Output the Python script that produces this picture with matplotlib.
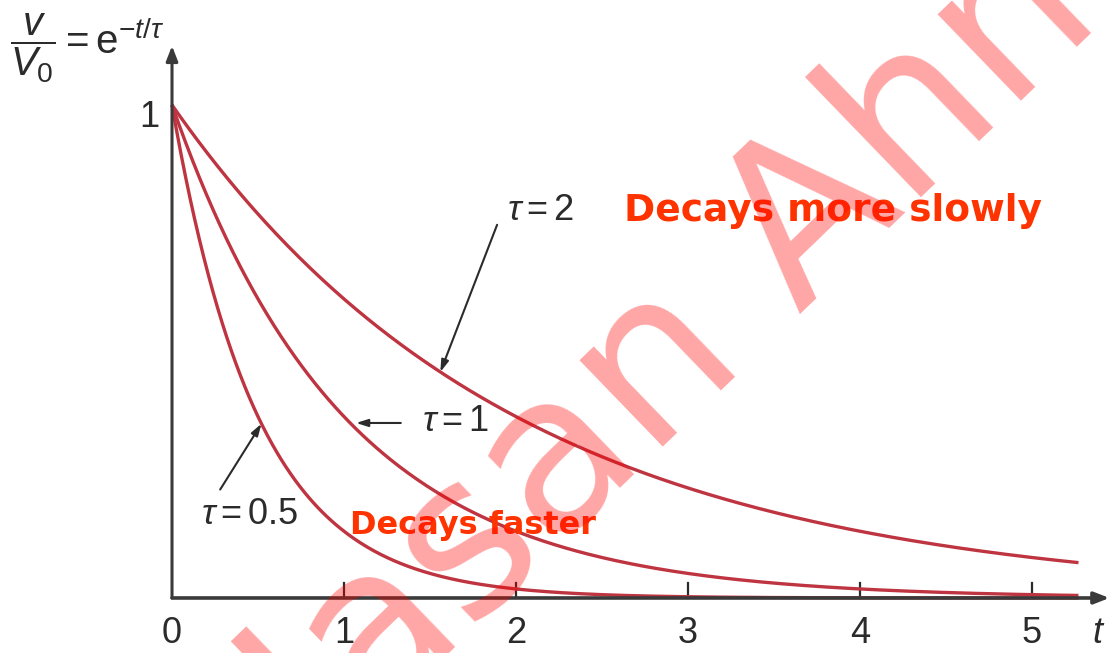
import numpy as np
import matplotlib.pyplot as plt

# time constants and axis data
taus = [0.5, 1, 2]
tau_labels = [r'$\tau = 0.5$', r'$\tau = 1$', r'$\tau = 2$']
t_end = 5.27
xticks = [1, 2, 3, 4, 5]
xtick_labels = ['0', '1', '2', '3', '4', '5']

curve_color = '#be3440'
ink = '#2b2b2b'
sans = ['Liberation Sans', 'DejaVu Sans']

plt.rcParams['mathtext.fontset'] = 'custom'
plt.rcParams['mathtext.rm'] = 'Liberation Sans'
plt.rcParams['mathtext.it'] = 'Liberation Sans:italic'

fig = plt.figure(figsize=(11.11, 6.53), dpi=100)
ax = fig.add_axes([0, 0, 1, 1])
ax.set_xlim(-1.0, 5.459)
ax.set_ylim(-0.1116, 1.213)
ax.axis('off')

# axes with arrow heads
ax.annotate('', xy=(5.45, 0), xytext=(0, 0),
            arrowprops=dict(arrowstyle='-|>,head_length=0.9,head_width=0.35', color='#3a3a3a', lw=2.6,
                            shrinkA=0, shrinkB=0))
ax.annotate('', xy=(0, 1.12), xytext=(0, 0),
            arrowprops=dict(arrowstyle='-|>,head_length=0.9,head_width=0.35', color='#3a3a3a', lw=2.2,
                            shrinkA=0, shrinkB=0))

# ticks and labels
for x in xticks:
    ax.plot([x, x], [0, 0.03], color=ink, lw=1.6)
for i, lab in enumerate(xtick_labels):
    ax.text(i, -0.072, lab, ha='center', va='center', fontsize=26, color=ink, family=sans)
ax.text(-0.13, 0.975, '1', ha='center', va='center', fontsize=26, color=ink, family=sans)
ax.text(5.385, -0.072, r'$t$', ha='center', va='center', fontsize=26, color=ink)
ax.text(-0.49, 1.115, r'$\dfrac{v}{V_0} = \mathrm{e}^{-t/\tau}$', ha='center', va='center',
        fontsize=29, color=ink)

# decay curves v/V0 = exp(-t/tau)
t = np.linspace(0, t_end, 400)
for tau in taus:
    ax.plot(t, np.exp(-t / tau), color=curve_color, lw=2.4, solid_capstyle='butt')

# curve labels with arrows
arrow = dict(arrowstyle='-|>,head_length=0.7,head_width=0.22', color=ink, lw=1.5, shrinkA=0, shrinkB=0)
ax.annotate('', xy=(0.52, np.exp(-0.52 / 0.5)), xytext=(0.28, 0.22), arrowprops=arrow)
ax.annotate('', xy=(1.07, 0.355), xytext=(1.33, 0.355), arrowprops=arrow)
ax.annotate('', xy=(1.56, np.exp(-1.56 / 2)), xytext=(1.89, 0.757), arrowprops=arrow)
ax.text(0.45, 0.17, tau_labels[0], ha='center', va='center', fontsize=26, color=ink)
ax.text(1.65, 0.36, tau_labels[1], ha='center', va='center', fontsize=26, color=ink)
ax.text(2.14, 0.787, tau_labels[2], ha='center', va='center', fontsize=26, color=ink)

# notes
ax.text(3.84, 0.785, 'Decays more slowly', ha='center', va='center', fontsize=27,
        fontweight='bold', color='#ff3300')
ax.text(1.75, 0.148, 'Decays faster', ha='center', va='center', fontsize=23,
        fontweight='bold', color='#ff3300')

# watermark across the whole figure
ax.text(765 / 1111, 1 - 265 / 653, 'Hasan Ahmed', transform=ax.transAxes, ha='center', va='center',
        rotation=44, rotation_mode='anchor', fontsize=158, color='#ff0000', alpha=0.35,
        family='DejaVu Sans', zorder=10)

fig.savefig('out.png', dpi=100)
